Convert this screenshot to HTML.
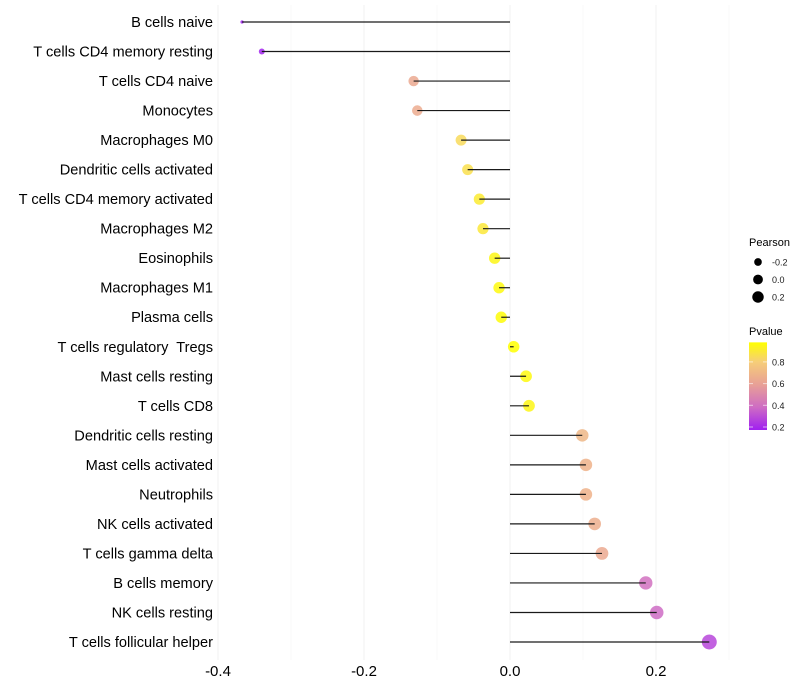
<!DOCTYPE html>
<html><head><meta charset="utf-8"><style>
body{margin:0;background:#fff;}
svg{display:block;font-family:"Liberation Sans",sans-serif;}
text{white-space:pre;}
</style></head><body>
<svg id="chart" width="800" height="700"></svg>
<script>
const categories=["B cells naive","T cells CD4 memory resting","T cells CD4 naive","Monocytes","Macrophages M0","Dendritic cells activated","T cells CD4 memory activated","Macrophages M2","Eosinophils","Macrophages M1","Plasma cells","T cells regulatory  Tregs","Mast cells resting","T cells CD8","Dendritic cells resting","Mast cells activated","Neutrophils","NK cells activated","T cells gamma delta","B cells memory","NK cells resting","T cells follicular helper"];
const pearson=[-0.367,-0.340,-0.132,-0.127,-0.067,-0.058,-0.042,-0.037,-0.021,-0.015,-0.012,0.005,0.022,0.026,0.099,0.104,0.104,0.116,0.126,0.186,0.201,0.273];
const pvalue=[0.19,0.21,0.64,0.65,0.84,0.86,0.9,0.89,0.94,0.95,0.96,0.98,0.95,0.94,0.7,0.68,0.68,0.66,0.64,0.42,0.4,0.3];
const xTicks=[-0.4,-0.2,0.0,0.2];
const xGrid=[-0.4,-0.3,-0.2,-0.1,0.0,0.1,0.2,0.3];
const sizeLegend=[-0.2,0.0,0.2];
const pLegend=[0.8,0.6,0.4,0.2];

const NS="http://www.w3.org/2000/svg";
const svg=document.getElementById('chart');
function el(t,a,p){const e=document.createElementNS(NS,t);for(const k in a)e.setAttribute(k,a[k]);(p||svg).appendChild(e);return e;}
const xs=v=>510+v*730;
const ys=i=>22+i*(620/21);
const stops=[[0.2,[160,32,240]],[0.4,[206,108,196]],[0.6,[232,160,150]],[0.8,[246,206,120]],[0.97,[255,255,0]]];
function col(p){if(p<=stops[0][0])return 'rgb('+stops[0][1]+')';for(let i=1;i<stops.length;i++){if(p<=stops[i][0]){const a=stops[i-1],b=stops[i],t=(p-a[0])/(b[0]-a[0]);return 'rgb('+a[1].map((c,j)=>Math.round(c+(b[1][j]-c)*t)).join(',')+')';}}return 'rgb(255,255,0)';}
const sz=[[-0.37,3],[-0.34,6],[-0.13,10.5],[0,11.5],[0.1,12.5],[0.2,13.5],[0.3,15.5]];
function rad(v){if(v<=sz[0][0])return sz[0][1]/2;for(let i=1;i<sz.length;i++){if(v<=sz[i][0]){const a=sz[i-1],b=sz[i];return (a[1]+(b[1]-a[1])*(v-a[0])/(b[0]-a[0]))/2;}}return sz[sz.length-1][1]/2;}

xGrid.forEach(v=>{const major=Math.round(v*10)%2===0;const g=el('line',{x1:xs(v),x2:xs(v),y1:5,y2:660,stroke:major?'#f0f0f0':'#f7f7f7','stroke-width':major?1:0.7});

});
xTicks.forEach(v=>{const t=el('text',{x:xs(v),y:676,'text-anchor':'middle','font-size':15,fill:'#000'});t.textContent=v.toFixed(1);

});

categories.forEach((c,i)=>{const y=ys(i);
const t=el('text',{x:213,y:y+5,'text-anchor':'end','font-size':14.6,fill:'#000'});t.textContent=c;


const pt=el('circle',{cx:xs(pearson[i]),cy:y,r:rad(pearson[i]),fill:col(pvalue[i]),'fill-opacity':0.85});


const ln=el('line',{x1:xs(0),x2:xs(pearson[i]),y1:y,y2:y,stroke:'#1a1a1a','stroke-width':1.2});


});

const lt=el('text',{x:749,y:246,'font-size':11,fill:'#000'});lt.textContent='Pearson';


sizeLegend.forEach((v,i)=>{const y=262+i*17.5;
const c=el('circle',{cx:758,cy:y,r:rad(v)*0.85,fill:'#000'});


const t=el('text',{x:772,y:y+3.5,'font-size':9,fill:'#1a1a1a'});t.textContent=v.toFixed(1);

});
const pt2=el('text',{x:749,y:335,'font-size':11,fill:'#000'});pt2.textContent='Pvalue';


const defs=el('defs',{});const lg=el('linearGradient',{id:'pg',x1:0,y1:1,x2:0,y2:0},defs);
[0.2,0.3,0.4,0.5,0.6,0.7,0.8,0.9,0.97].forEach(p=>el('stop',{offset:((p-0.2)/0.77),'stop-color':col(p)},lg));
const pyv=p=>427-(p-0.2)/0.2*21.7;
const bar=el('rect',{x:749,y:pyv(0.98),width:18,height:pyv(0.2)+3-pyv(0.98),fill:'url(#pg)'});


pLegend.forEach(p=>{const y=pyv(p);
el('line',{x1:749,x2:753,y1:y,y2:y,stroke:'#fff','stroke-opacity':0.6});
el('line',{x1:763,x2:767,y1:y,y2:y,stroke:'#fff','stroke-opacity':0.6});
const t=el('text',{x:772,y:y+3.5,'font-size':9,fill:'#1a1a1a'});t.textContent=p.toFixed(1);

});
</script>
</body></html>
